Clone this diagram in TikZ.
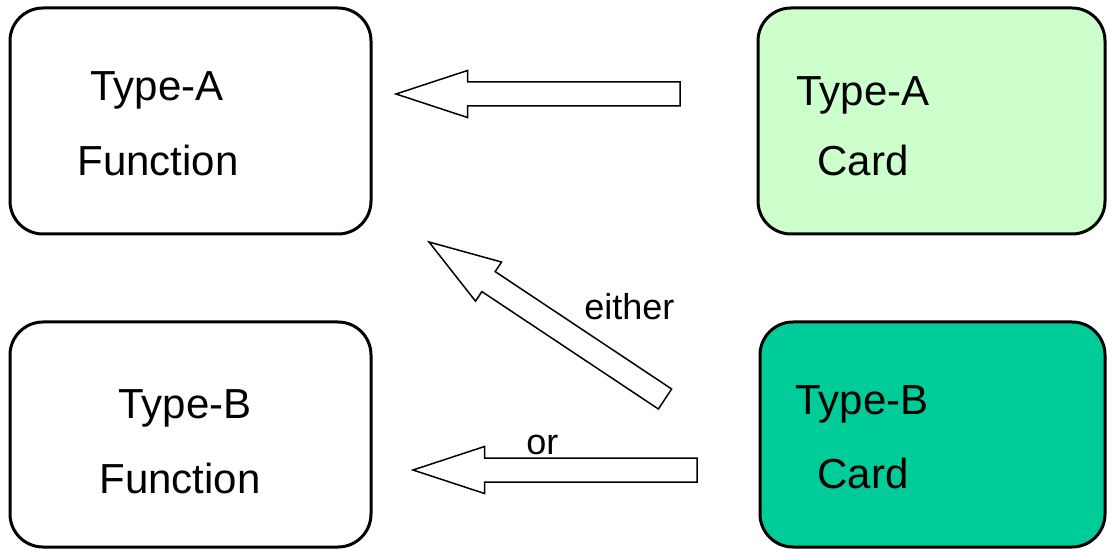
\documentclass[tikz,border=0pt]{standalone}
\usepackage{fontspec}
\setmainfont{Liberation Sans}
\usetikzlibrary{calc}

\definecolor{cardA}{HTML}{CCFFCC}
\definecolor{cardB}{HTML}{00CC99}

\tikzset{
  box/.style={draw, line width=1.5pt, rounded corners=16.5pt, inner sep=0pt},
  boxtext/.style={anchor=base west, inner sep=0pt, font=\fontsize{21}{25}\selectfont},
  smalltext/.style={anchor=base west, inner sep=0pt, font=\fontsize{18}{22}\selectfont},
  hollow/.style={draw, fill=white, line width=0.75pt, line join=miter}
}

\newcommand{\hollowarrow}[2]{%
  \coordinate (hb) at ($(#2)!35.75pt!(#1)$);
  \draw[hollow] ($(#1)!6pt!90:(#2)$) -- ($(hb)!6pt!90:(#2)$)
    -- ($(hb)!11.75pt!90:(#2)$) -- (#2) -- ($(hb)!11.75pt!-90:(#2)$)
    -- ($(hb)!6pt!-90:(#2)$) -- ($(#1)!6pt!-90:(#2)$) -- cycle;
}

\begin{document}
\begin{tikzpicture}[x=0.5pt,y=-0.5pt]
  \useasboundingbox (0,0) rectangle (1107,550);

  \node[box, minimum width=180.5pt, minimum height=113pt] (funA) at (190.5,121) {};
  \node[box, fill=cardA, minimum width=173.5pt, minimum height=113pt] (cardA) at (931.5,121) {};
  \node[box, minimum width=180.5pt, minimum height=112.5pt] (funB) at (190.5,434.5) {};
  \node[box, fill=cardB, minimum width=172.5pt, minimum height=112.5pt] (cardB) at (932.5,434.5) {};

  \path (90,101) node[boxtext] (funAtype) {Type-A};
  \path (77,176) node[boxtext] (funAname) {Function};
  \path (796,106) node[boxtext] (cardAtype) {Type-A};
  \path (817,176) node[boxtext] (cardAname) {Card};
  \path (118,418) node[boxtext] (funBtype) {Type-B};
  \path (99,493) node[boxtext] (funBname) {Function};
  \path (795,414) node[boxtext] (cardBtype) {Type-B};
  \path (817,488) node[boxtext] (cardBname) {Card};

  \coordinate (atail) at (680,94);
  \coordinate (atip) at (396,94);
  \hollowarrow{atail}{atip}

  \coordinate (etail) at (665,399);
  \coordinate (etip) at (429,242);
  \hollowarrow{etail}{etip}

  \coordinate (otail) at (697,470);
  \coordinate (otip) at (413,470);
  \hollowarrow{otail}{otip}

  \path (584,320) node[smalltext] (either) {either};
  \path (526,454) node[smalltext] (or) {or};

\end{tikzpicture}
\end{document}
